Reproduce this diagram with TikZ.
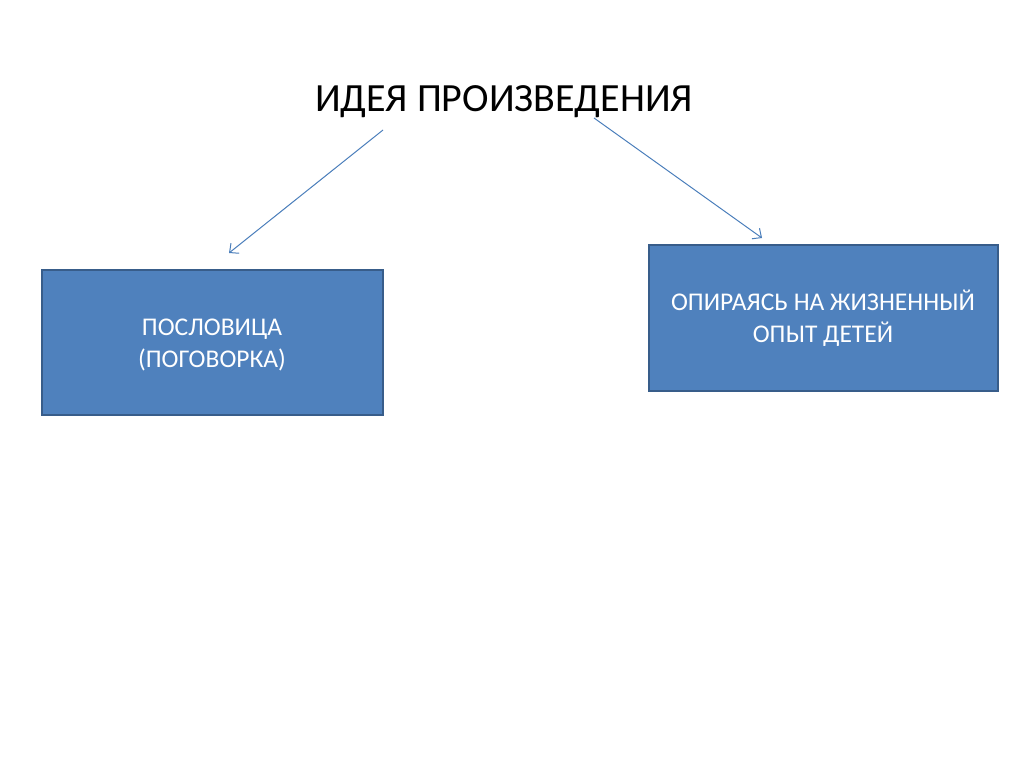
\documentclass[tikz,border=0pt]{standalone}
\usepackage{fontspec}
\setmainfont{Carlito}
\usetikzlibrary{arrows.meta}
\definecolor{boxfill}{HTML}{4F81BD}
\definecolor{boxline}{HTML}{385D8A}
\definecolor{arrowblue}{HTML}{4A7EBB}
\tikzset{
  bluebox/.style={draw=boxline, line width=2pt, fill=boxfill},
  boxtext/.style={text=white, align=center, font=\fontsize{25.5}{32}\selectfont, inner sep=0pt},
  conn/.style={draw=arrowblue, line width=1pt, -{Straight Barb[length=7pt,width=13pt,line width=1pt]}}
}
\begin{document}
\begin{tikzpicture}[x=1pt,y=-1pt]
\useasboundingbox (0,0) rectangle (1024,767);
\fill[white] (0,0) rectangle (1024,767);
\node[anchor=base, font=\fontsize{40}{48}\selectfont, inner sep=0pt] (title) at (504,112) {ИДЕЯ ПРОИЗВЕДЕНИЯ};
\path[bluebox] (42,270) rectangle (383,415);
\path[bluebox] (649,245) rectangle (998,391);
\node[boxtext] (ltext) at (212,345) {ПОСЛОВИЦА\\(ПОГОВОРКА)};
\node[boxtext] (rtext) at (823,318) {ОПИРАЯСЬ НА ЖИЗНЕННЫЙ\\ОПЫТ ДЕТЕЙ};
\coordinate (ls) at (383,130);
\coordinate (le) at (229,253);
\coordinate (rs) at (594,118);
\coordinate (re) at (762,238);
\draw[conn] (ls) -- (le);
\draw[conn] (rs) -- (re);
\end{tikzpicture}
\end{document}
